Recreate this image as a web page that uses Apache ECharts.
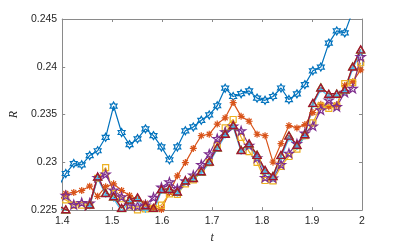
<!DOCTYPE html>
<html><head><meta charset="utf-8">
<script src="https://cdn.jsdelivr.net/npm/echarts/dist/echarts.min.js"></script>
<style>html,body{margin:0;padding:0;background:#fff}#c{width:399px;height:249px}</style>
</head><body><div id="c"></div><script>
const t = [1.3913,1.4072,1.4232,1.4391,1.4551,1.4710,1.4870,1.5029,1.5189,1.5348,1.5508,1.5667,1.5827,1.5986,1.6146,1.6305,1.6465,1.6624,1.6784,1.6943,1.7103,1.7262,1.7422,1.7581,1.7741,1.7900,1.8060,1.8219,1.8379,1.8538,1.8698,1.8857,1.9017,1.9176,1.9336,1.9495,1.9655,1.9814,1.9974];
const blue = [0.22730,0.22883,0.22987,0.22974,0.23071,0.23121,0.23262,0.23589,0.23312,0.23185,0.23246,0.23350,0.23279,0.23161,0.23027,0.23161,0.23330,0.23370,0.23440,0.23496,0.23592,0.23776,0.23689,0.23718,0.23748,0.23672,0.23649,0.23689,0.23778,0.23657,0.23716,0.23813,0.23958,0.23997,0.24247,0.24375,0.24355,0.24580,0.24750];
const orange = [0.22654,0.22674,0.22684,0.22705,0.22750,0.22644,0.22745,0.22775,0.22705,0.22654,0.22614,0.22574,0.22523,0.22506,0.22684,0.22859,0.22997,0.23145,0.23279,0.23294,0.23400,0.23466,0.23625,0.23481,0.23430,0.23294,0.23279,0.23002,0.23196,0.23385,0.23360,0.23395,0.23521,0.23607,0.23582,0.23602,0.23803,0.23844,0.23968];
const yellow = [0.22634,0.22607,0.22553,0.22553,0.22553,0.22833,0.22944,0.22674,0.22619,0.22543,0.22503,0.22513,0.22518,0.22553,0.22669,0.22664,0.22775,0.22816,0.22896,0.22997,0.23178,0.23360,0.23448,0.23262,0.23111,0.23000,0.22810,0.22806,0.22957,0.23061,0.23138,0.23279,0.23413,0.23589,0.23565,0.23589,0.23824,0.23834,0.24042];
const purple = [0.22614,0.22654,0.22558,0.22579,0.22574,0.22841,0.22876,0.22708,0.22639,0.22553,0.22543,0.22553,0.22634,0.22740,0.22795,0.22725,0.22805,0.22866,0.22977,0.23088,0.23249,0.23320,0.23380,0.23330,0.23178,0.23047,0.22841,0.22836,0.22977,0.23095,0.23196,0.23306,0.23380,0.23548,0.23652,0.23582,0.23733,0.23773,0.24106];
const green = [0.22540,0.22505,0.22450,0.22455,0.22560,0.22846,0.22683,0.22640,0.22520,0.22612,0.22630,0.22548,0.22520,0.22716,0.22724,0.22690,0.22806,0.22840,0.22902,0.23010,0.23154,0.23303,0.23386,0.23132,0.23195,0.23082,0.22918,0.22860,0.23074,0.23283,0.23180,0.23298,0.23618,0.23787,0.23714,0.23722,0.23759,0.24006,0.24178];
const cyan = [0.22520,0.22490,0.22440,0.22470,0.22540,0.22830,0.22660,0.22620,0.22490,0.22590,0.22610,0.22500,0.22480,0.22700,0.22700,0.22670,0.22790,0.22820,0.22890,0.22990,0.23140,0.23280,0.23370,0.23110,0.23170,0.23050,0.22900,0.22830,0.23050,0.23250,0.23160,0.23270,0.23600,0.23760,0.23690,0.23700,0.23740,0.23980,0.24150];
const red = [0.22543,0.22508,0.22453,0.22453,0.22558,0.22851,0.22679,0.22644,0.22523,0.22609,0.22634,0.22550,0.22523,0.22720,0.22720,0.22695,0.22810,0.22836,0.22906,0.23007,0.23158,0.23299,0.23390,0.23128,0.23199,0.23078,0.22921,0.22856,0.23078,0.23279,0.23184,0.23294,0.23622,0.23783,0.23718,0.23718,0.23763,0.24002,0.24182];
const xTicks = {min:1.4, max:2, interval:0.1};
const yTicks = {min:0.225, max:0.245, interval:0.005};

const HEX='path://M0,-10L2.887,-5L8.66,-5L5.77,0L8.66,5L2.887,5L0,10L-2.887,5L-8.66,5L-5.77,0L-8.66,-5L-2.887,-5Z';
const PENT='path://M0,-10L2.245,-3.09L9.511,-3.09L3.633,1.18L5.878,8.09L0,3.82L-5.878,8.09L-3.633,1.18L-9.511,-3.09L-2.245,-3.09Z';
const AST='path://M0,-10L0,10M-10,0L10,0M-7.07,-7.07L7.07,7.07M-7.07,7.07L7.07,-7.07';
const PLUS='path://M0,-10L0,10M-10,0L10,0';
const TRI='path://M0,-10L8.66,5L-8.66,5Z';
const SQ='path://M-10,-10L10,-10L10,10L-10,10Z';

function mk(name, vals, color, symbol, size, w){
  return {type:'line', name, data: t.map((x,i)=>[x, vals[i]]), symbol, symbolSize:size, symbolKeepAspect:true,
    lineStyle:{color, width:w}, itemStyle:{color:'rgba(0,0,0,0)', borderColor:color, borderWidth:w},
    clip:true, animation:false, emphasis:{disabled:true}};
}
const axisCol = '#8a8a8a';
const lab = {color:'#262626', fontSize:10.5, fontFamily:'Liberation Sans'};
const chart = echarts.init(document.getElementById('c'), null, {renderer:'canvas'});
chart.setOption({
  animation:false,
  grid:{left:52, right:37, top:19, bottom:32},
  xAxis:[
    {type:'value', ...xTicks, position:'bottom', axisLine:{onZero:false, lineStyle:{color:axisCol}},
     axisTick:{inside:true, length:3, lineStyle:{color:axisCol}}, splitLine:{show:false},
     axisLabel:{...lab, margin:6, formatter:v=>String(+v.toFixed(2))},
     name:'t', nameLocation:'middle', nameGap:20,
     nameTextStyle:{fontFamily:'Liberation Serif', fontStyle:'italic', fontSize:12, color:'#262626'}},
    {type:'value', ...xTicks, position:'top', axisLine:{onZero:false, lineStyle:{color:axisCol}},
     axisTick:{inside:true, length:3, lineStyle:{color:axisCol}}, splitLine:{show:false}, axisLabel:{show:false}}
  ],
  yAxis:[
    {type:'value', ...yTicks, position:'left', axisLine:{show:true, onZero:false, lineStyle:{color:axisCol}},
     axisTick:{show:true, inside:true, length:3, lineStyle:{color:axisCol}}, splitLine:{show:false},
     axisLabel:{...lab, margin:5, formatter:v=>String(+v.toFixed(3))},
     name:'R', nameLocation:'middle', nameGap:39, nameRotate:90,
     nameTextStyle:{fontFamily:'Liberation Serif', fontStyle:'italic', fontSize:12, color:'#262626'}},
    {type:'value', ...yTicks, position:'right', axisLine:{show:true, onZero:false, lineStyle:{color:axisCol}},
     axisTick:{show:true, inside:true, length:3, lineStyle:{color:axisCol}}, splitLine:{show:false}, axisLabel:{show:false}}
  ],
  series:[
    mk('s1', blue, '#0072BD', HEX, 8, 1.2),
    mk('s2', orange, '#D95319', AST, 7, 1.2),
    mk('s3', yellow, '#EDB120', SQ, 6, 1.2),
    mk('s4', purple, '#7E2F8E', PENT, 9, 1.2),
    mk('s5', green, '#77AC30', TRI, 8, 1.2),
    mk('s6', cyan, '#4DBEEE', PLUS, 6, 1.2),
    mk('s7', red, '#A2142F', TRI, 8, 1.4)
  ]
});
</script></body></html>
